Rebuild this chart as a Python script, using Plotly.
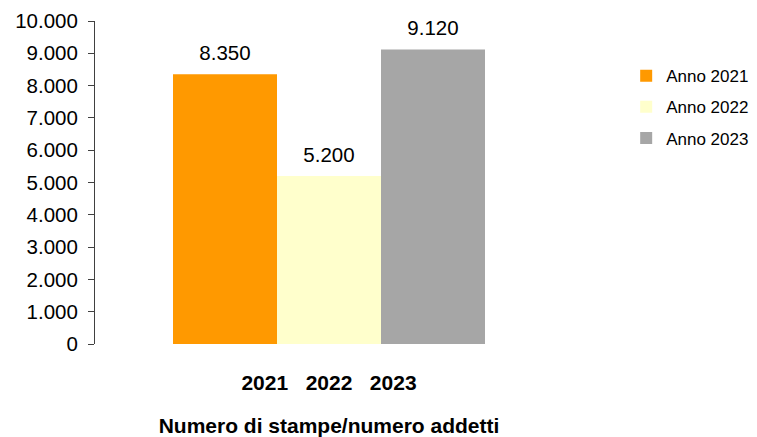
import plotly.graph_objects as go

years = ["2021", "2022", "2023"]
series_names = ["Anno 2021", "Anno 2022", "Anno 2023"]
values = [8350, 5200, 9120]
colors = ["#FF9900", "#FFFFCC", "#A6A6A6"]
category_label = "\u00a0\u00a0\u00a0".join(years)
x_title = "Numero di stampe/numero addetti"

fig = go.Figure()
for i, (name, v, c) in enumerate(zip(series_names, values, colors)):
    fig.add_trace(go.Bar(
        x=[category_label], y=[v], name=name, marker=dict(color=c, line=dict(width=0)),
        offsetgroup=str(i), alignmentgroup="g", legendgroup=name,
    ))
for i, v in enumerate(values):
    fig.add_trace(go.Scatter(
        x=[category_label], y=[v], mode="markers+text", text=[v], texttemplate="%{y:,}",
        textposition="top center", marker=dict(size=13, color="rgba(0,0,0,0)"),
        textfont=dict(size=20.5, color="#000000", family="Liberation Sans, Arial"),
        offsetgroup=str(i), alignmentgroup="g", showlegend=False, hoverinfo="skip",
        cliponaxis=False,
    ))

fig.update_layout(
    width=757, height=437,
    margin=dict(l=95, r=194, t=21, b=93, autoexpand=False),
    paper_bgcolor="white", plot_bgcolor="white",
    barmode="group", bargap=1/3, bargroupgap=0,
    scattermode="group", scattergap=1/3,
    separators=",.",
    font=dict(family="Liberation Sans, Arial", color="#000000"),
    showlegend=True,
    legend=dict(x=1.135, y=0.885, xanchor="left", yanchor="top",
                font=dict(size=17, color="#000000"), tracegroupgap=6,
                itemwidth=30, bgcolor="rgba(0,0,0,0)"),
    xaxis=dict(showline=False, showgrid=False, ticks="", zeroline=False, automargin=False,
               tickfont=dict(size=21, color="#000000", family="Liberation Sans, Arial", weight="bold"),
               ticklabelstandoff=24,
               title=dict(text=x_title, standoff=25,
                          font=dict(size=21, color="#000000", family="Liberation Sans, Arial", weight="bold"))),
    yaxis=dict(range=[0, 10000], dtick=1000, tickformat=",d", showgrid=False, zeroline=False,
               automargin=False,
               showline=True, linecolor="#404040", linewidth=1, ticks="outside", ticklen=6,
               tickcolor="#404040", tickfont=dict(size=20.5, color="#000000"), ticklabelstandoff=6),
)

fig.write_html("out.html", post_script="document.body.style.margin='0';",
               config={"displayModeBar": False})
